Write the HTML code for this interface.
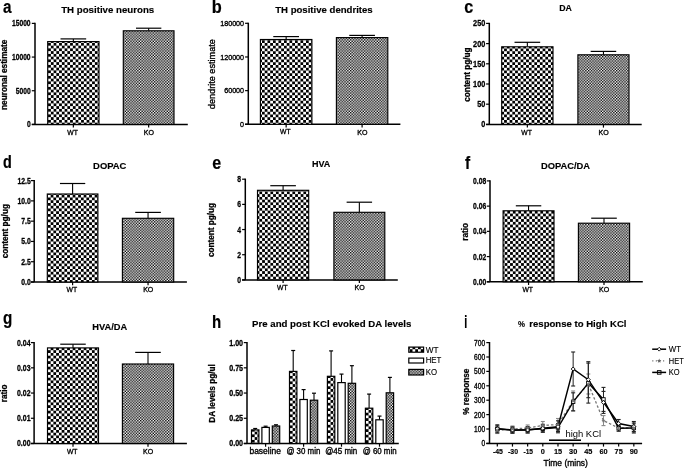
<!DOCTYPE html>
<html><head><meta charset="utf-8"><style>
html,body{margin:0;padding:0;background:#fff;overflow:hidden;}
svg{display:block;filter:grayscale(1) blur(0.35px);}
text{font-family:"Liberation Sans",sans-serif;}
text[font-weight="bold"]{stroke:#000;stroke-width:0.28px;stroke-linejoin:round;}
text.big{stroke-width:0.2px;}
text.title{stroke-width:0.14px;}
text.lt{stroke:#000;stroke-width:0.12px;}
text.med{stroke:#000;stroke-width:0.35px;stroke-linejoin:round;}
</style></head><body>
<svg width="685" height="468" viewBox="0 0 685 468">
<defs>
<pattern id="wt" patternUnits="userSpaceOnUse" width="5.5" height="5.5"><rect width="5.5" height="5.5" fill="#fff"/><rect width="2.75" height="2.75" fill="#000"/><rect x="2.75" y="2.75" width="2.75" height="2.75" fill="#000"/></pattern>
<pattern id="ko" patternUnits="userSpaceOnUse" width="2.8" height="2.8"><rect width="2.8" height="2.8" fill="#fff"/><rect width="1.4" height="1.4" fill="#000"/><rect x="1.4" y="1.4" width="1.4" height="1.4" fill="#000"/></pattern>
<pattern id="het" patternUnits="userSpaceOnUse" width="4" height="4"><rect width="4" height="4" fill="#fff"/></pattern>
<pattern id="wt_a" patternUnits="userSpaceOnUse" x="48.10" y="42.90" width="5.5" height="5.5"><rect width="5.5" height="5.5" fill="#fff"/><rect width="2.75" height="2.75" fill="#000"/><rect x="2.75" y="2.75" width="2.75" height="2.75" fill="#000"/></pattern><pattern id="wt_b" patternUnits="userSpaceOnUse" x="264.70" y="43.00" width="5.5" height="5.5"><rect width="5.5" height="5.5" fill="#fff"/><rect width="2.75" height="2.75" fill="#000"/><rect x="2.75" y="2.75" width="2.75" height="2.75" fill="#000"/></pattern><pattern id="wt_c" patternUnits="userSpaceOnUse" x="504.10" y="48.50" width="5.5" height="5.5"><rect width="5.5" height="5.5" fill="#fff"/><rect width="2.75" height="2.75" fill="#000"/><rect x="2.75" y="2.75" width="2.75" height="2.75" fill="#000"/></pattern><pattern id="wt_d" patternUnits="userSpaceOnUse" x="47.90" y="197.50" width="5.5" height="5.5"><rect width="5.5" height="5.5" fill="#fff"/><rect width="2.75" height="2.75" fill="#000"/><rect x="2.75" y="2.75" width="2.75" height="2.75" fill="#000"/></pattern><pattern id="wt_e" patternUnits="userSpaceOnUse" x="259.40" y="191.40" width="5.5" height="5.5"><rect width="5.5" height="5.5" fill="#fff"/><rect width="2.75" height="2.75" fill="#000"/><rect x="2.75" y="2.75" width="2.75" height="2.75" fill="#000"/></pattern><pattern id="wt_f" patternUnits="userSpaceOnUse" x="504.60" y="213.60" width="5.5" height="5.5"><rect width="5.5" height="5.5" fill="#fff"/><rect width="2.75" height="2.75" fill="#000"/><rect x="2.75" y="2.75" width="2.75" height="2.75" fill="#000"/></pattern><pattern id="wt_g" patternUnits="userSpaceOnUse" x="47.90" y="350.20" width="5.5" height="5.5"><rect width="5.5" height="5.5" fill="#fff"/><rect width="2.75" height="2.75" fill="#000"/><rect x="2.75" y="2.75" width="2.75" height="2.75" fill="#000"/></pattern><pattern id="wth0" patternUnits="userSpaceOnUse" x="251.90" y="434.40" width="5.5" height="5.5"><rect width="5.5" height="5.5" fill="#fff"/><rect width="2.75" height="2.75" fill="#000"/><rect x="2.75" y="2.75" width="2.75" height="2.75" fill="#000"/></pattern><pattern id="wth1" patternUnits="userSpaceOnUse" x="289.90" y="375.90" width="5.5" height="5.5"><rect width="5.5" height="5.5" fill="#fff"/><rect width="2.75" height="2.75" fill="#000"/><rect x="2.75" y="2.75" width="2.75" height="2.75" fill="#000"/></pattern><pattern id="wth2" patternUnits="userSpaceOnUse" x="327.80" y="380.80" width="5.5" height="5.5"><rect width="5.5" height="5.5" fill="#fff"/><rect width="2.75" height="2.75" fill="#000"/><rect x="2.75" y="2.75" width="2.75" height="2.75" fill="#000"/></pattern><pattern id="wth3" patternUnits="userSpaceOnUse" x="365.80" y="412.70" width="5.5" height="5.5"><rect width="5.5" height="5.5" fill="#fff"/><rect width="2.75" height="2.75" fill="#000"/><rect x="2.75" y="2.75" width="2.75" height="2.75" fill="#000"/></pattern></defs>
<rect width="685" height="468" fill="#fff"/>
<text x="2.90" y="13.00" font-size="18.00" font-weight="bold" textLength="8.50" lengthAdjust="spacingAndGlyphs" fill="#000" class="big">a</text>
<text x="211.70" y="12.70" font-size="18.00" font-weight="bold" textLength="10.00" lengthAdjust="spacingAndGlyphs" fill="#000" class="big">b</text>
<text x="464.20" y="12.70" font-size="18.00" font-weight="bold" textLength="9.00" lengthAdjust="spacingAndGlyphs" fill="#000" class="big">c</text>
<text x="3.10" y="168.40" font-size="18.00" font-weight="bold" textLength="8.80" lengthAdjust="spacingAndGlyphs" fill="#000" class="big">d</text>
<text x="212.30" y="168.70" font-size="18.00" font-weight="bold" textLength="8.90" lengthAdjust="spacingAndGlyphs" fill="#000" class="big">e</text>
<text x="465.00" y="168.70" font-size="18.00" font-weight="bold" textLength="5.17" lengthAdjust="spacingAndGlyphs" fill="#000" class="big">f</text>
<text x="3.00" y="323.90" font-size="18.00" font-weight="bold" textLength="9.30" lengthAdjust="spacingAndGlyphs" fill="#000" class="big">g</text>
<text x="212.00" y="328.20" font-size="18.00" font-weight="bold" textLength="9.20" lengthAdjust="spacingAndGlyphs" fill="#000" class="big">h</text>
<text x="464.20" y="328.20" font-size="18.00" font-weight="bold" textLength="3.00" lengthAdjust="spacingAndGlyphs" fill="#000" class="big">i</text>
<text x="61.20" y="12.80" font-size="9.31" font-weight="bold" textLength="93.00" lengthAdjust="spacingAndGlyphs" fill="#000" class="title">TH positive neurons</text>
<text x="275.20" y="12.80" font-size="9.31" font-weight="bold" textLength="97.50" lengthAdjust="spacingAndGlyphs" fill="#000" class="title">TH positive dendrites</text>
<text x="559.20" y="10.70" font-size="9.03" font-weight="bold" textLength="12.70" lengthAdjust="spacingAndGlyphs" fill="#000" class="title">DA</text>
<text x="93.10" y="169.00" font-size="9.17" font-weight="bold" textLength="33.30" lengthAdjust="spacingAndGlyphs" fill="#000" class="title">DOPAC</text>
<text x="311.90" y="167.00" font-size="9.03" font-weight="bold" textLength="18.40" lengthAdjust="spacingAndGlyphs" fill="#000" class="title">HVA</text>
<text x="540.90" y="169.00" font-size="9.17" font-weight="bold" textLength="49.20" lengthAdjust="spacingAndGlyphs" fill="#000" class="title">DOPAC/DA</text>
<text x="92.30" y="330.10" font-size="8.89" font-weight="bold" textLength="35.00" lengthAdjust="spacingAndGlyphs" fill="#000" class="title">HVA/DA</text>
<text x="252.10" y="327.10" font-size="8.89" font-weight="bold" textLength="159.20" lengthAdjust="spacingAndGlyphs" fill="#000" class="title">Pre and post KCl evoked DA levels</text>
<text x="517.90" y="326.60" font-size="9.44" font-weight="bold" textLength="7.00" lengthAdjust="spacingAndGlyphs" fill="#000" class="title">%</text>
<text x="529.30" y="326.60" font-size="9.44" font-weight="bold" textLength="97.20" lengthAdjust="spacingAndGlyphs" fill="#000" class="title">response to High KCl</text>
<text transform="translate(7.20,109.89) rotate(-90)" x="0" y="0" font-size="8.20" font-weight="bold" textLength="70.18" lengthAdjust="spacingAndGlyphs">neuronal estimate</text>
<text transform="translate(215.20,109.20) rotate(-90)" x="0" y="0" font-size="9.10" font-weight="normal" textLength="70.10" lengthAdjust="spacingAndGlyphs" class="med">dendrite estimate</text>
<text transform="translate(469.50,101.70) rotate(-90)" x="0" y="0" font-size="8.20" font-weight="bold" textLength="54.20" lengthAdjust="spacingAndGlyphs">content pg/ug</text>
<text transform="translate(7.55,258.30) rotate(-90)" x="0" y="0" font-size="8.20" font-weight="bold" textLength="54.20" lengthAdjust="spacingAndGlyphs">content pg/ug</text>
<text transform="translate(214.40,257.10) rotate(-90)" x="0" y="0" font-size="8.20" font-weight="bold" textLength="54.20" lengthAdjust="spacingAndGlyphs">content pg/ug</text>
<text transform="translate(467.60,240.68) rotate(-90)" x="0" y="0" font-size="8.20" font-weight="bold" textLength="17.77" lengthAdjust="spacingAndGlyphs">ratio</text>
<text transform="translate(6.60,402.18) rotate(-90)" x="0" y="0" font-size="8.20" font-weight="bold" textLength="17.77" lengthAdjust="spacingAndGlyphs">ratio</text>
<text transform="translate(215.30,422.74) rotate(-90)" x="0" y="0" font-size="8.20" font-weight="bold" textLength="58.48" lengthAdjust="spacingAndGlyphs">DA levels pg/ul</text>
<text transform="translate(468.50,414.71) rotate(-90)" x="0" y="0" font-size="8.20" font-weight="bold" textLength="46.03" lengthAdjust="spacingAndGlyphs">% response</text>
<line x1="35.00" y1="22.80" x2="35.00" y2="124.40" stroke="#000" stroke-width="1.5" />
<line x1="31.80" y1="124.40" x2="187.80" y2="124.40" stroke="#000" stroke-width="1.5" />
<line x1="31.80" y1="23.40" x2="35.00" y2="23.40" stroke="#000" stroke-width="1.2" />
<text x="12.00" y="26.35" font-size="8.20" font-weight="bold" textLength="18.60" lengthAdjust="spacingAndGlyphs" fill="#000">15000</text>
<line x1="31.80" y1="57.07" x2="35.00" y2="57.07" stroke="#000" stroke-width="1.2" />
<text x="12.00" y="60.02" font-size="8.20" font-weight="bold" textLength="18.60" lengthAdjust="spacingAndGlyphs" fill="#000">10000</text>
<line x1="31.80" y1="90.73" x2="35.00" y2="90.73" stroke="#000" stroke-width="1.2" />
<text x="15.72" y="93.69" font-size="8.20" font-weight="bold" textLength="14.88" lengthAdjust="spacingAndGlyphs" fill="#000">5000</text>
<line x1="31.80" y1="124.40" x2="35.00" y2="124.40" stroke="#000" stroke-width="1.2" />
<text x="26.88" y="127.35" font-size="8.20" font-weight="bold" textLength="3.72" lengthAdjust="spacingAndGlyphs" fill="#000">0</text>
<line x1="73.35" y1="38.90" x2="73.35" y2="41.60" stroke="#000" stroke-width="1.1" />
<line x1="60.52" y1="38.90" x2="86.17" y2="38.90" stroke="#000" stroke-width="1.2" />
<rect x="47.70" y="41.60" width="51.30" height="82.80" fill="url(#wt_a)" stroke="#000" stroke-width="1.15"/>
<line x1="73.35" y1="124.40" x2="73.35" y2="127.60" stroke="#000" stroke-width="1.2" />
<text x="67.26" y="134.50" font-size="8.00" font-weight="normal" textLength="10.57" lengthAdjust="spacingAndGlyphs" fill="#000" class="med">WT</text>
<line x1="148.65" y1="28.20" x2="148.65" y2="30.80" stroke="#000" stroke-width="1.1" />
<line x1="135.97" y1="28.20" x2="161.33" y2="28.20" stroke="#000" stroke-width="1.2" />
<rect x="123.30" y="30.80" width="50.70" height="93.60" fill="url(#ko)" stroke="#000" stroke-width="1.15"/>
<line x1="148.65" y1="124.40" x2="148.65" y2="127.60" stroke="#000" stroke-width="1.2" />
<text x="143.76" y="134.80" font-size="8.00" font-weight="normal" textLength="10.17" lengthAdjust="spacingAndGlyphs" fill="#000" class="med">KO</text>
<line x1="248.30" y1="22.70" x2="248.30" y2="124.30" stroke="#000" stroke-width="1.5" />
<line x1="245.10" y1="124.30" x2="400.40" y2="124.30" stroke="#000" stroke-width="1.5" />
<line x1="245.10" y1="23.30" x2="248.30" y2="23.30" stroke="#000" stroke-width="1.2" />
<text x="220.20" y="26.04" font-size="7.60" font-weight="normal" textLength="23.90" lengthAdjust="spacingAndGlyphs" fill="#000" class="med">180000</text>
<line x1="245.10" y1="56.97" x2="248.30" y2="56.97" stroke="#000" stroke-width="1.2" />
<text x="220.20" y="59.70" font-size="7.60" font-weight="normal" textLength="23.90" lengthAdjust="spacingAndGlyphs" fill="#000" class="med">120000</text>
<line x1="245.10" y1="90.63" x2="248.30" y2="90.63" stroke="#000" stroke-width="1.2" />
<text x="224.18" y="93.37" font-size="7.60" font-weight="normal" textLength="19.92" lengthAdjust="spacingAndGlyphs" fill="#000" class="med">60000</text>
<line x1="245.10" y1="124.30" x2="248.30" y2="124.30" stroke="#000" stroke-width="1.2" />
<text x="240.12" y="127.04" font-size="7.60" font-weight="normal" textLength="3.98" lengthAdjust="spacingAndGlyphs" fill="#000" class="med">0</text>
<line x1="286.15" y1="36.60" x2="286.15" y2="39.50" stroke="#000" stroke-width="1.1" />
<line x1="273.27" y1="36.60" x2="299.02" y2="36.60" stroke="#000" stroke-width="1.2" />
<rect x="260.40" y="39.50" width="51.50" height="84.80" fill="url(#wt_b)" stroke="#000" stroke-width="1.15"/>
<line x1="286.15" y1="124.30" x2="286.15" y2="127.50" stroke="#000" stroke-width="1.2" />
<text x="280.06" y="134.40" font-size="8.00" font-weight="normal" textLength="10.57" lengthAdjust="spacingAndGlyphs" fill="#000" class="med">WT</text>
<line x1="362.10" y1="35.40" x2="362.10" y2="37.60" stroke="#000" stroke-width="1.1" />
<line x1="349.25" y1="35.40" x2="374.95" y2="35.40" stroke="#000" stroke-width="1.2" />
<rect x="336.40" y="37.60" width="51.40" height="86.70" fill="url(#ko)" stroke="#000" stroke-width="1.15"/>
<line x1="362.10" y1="124.30" x2="362.10" y2="127.50" stroke="#000" stroke-width="1.2" />
<text x="357.21" y="134.70" font-size="8.00" font-weight="normal" textLength="10.17" lengthAdjust="spacingAndGlyphs" fill="#000" class="med">KO</text>
<line x1="489.30" y1="22.80" x2="489.30" y2="124.40" stroke="#000" stroke-width="1.5" />
<line x1="486.10" y1="124.40" x2="641.70" y2="124.40" stroke="#000" stroke-width="1.5" />
<line x1="486.10" y1="23.40" x2="489.30" y2="23.40" stroke="#000" stroke-width="1.2" />
<text x="473.10" y="26.35" font-size="8.20" font-weight="bold" textLength="12.20" lengthAdjust="spacingAndGlyphs" fill="#000">250</text>
<line x1="486.10" y1="43.60" x2="489.30" y2="43.60" stroke="#000" stroke-width="1.2" />
<text x="473.10" y="46.55" font-size="8.20" font-weight="bold" textLength="12.20" lengthAdjust="spacingAndGlyphs" fill="#000">200</text>
<line x1="486.10" y1="63.80" x2="489.30" y2="63.80" stroke="#000" stroke-width="1.2" />
<text x="473.10" y="66.75" font-size="8.20" font-weight="bold" textLength="12.20" lengthAdjust="spacingAndGlyphs" fill="#000">150</text>
<line x1="486.10" y1="84.00" x2="489.30" y2="84.00" stroke="#000" stroke-width="1.2" />
<text x="473.10" y="86.95" font-size="8.20" font-weight="bold" textLength="12.20" lengthAdjust="spacingAndGlyphs" fill="#000">100</text>
<line x1="486.10" y1="104.20" x2="489.30" y2="104.20" stroke="#000" stroke-width="1.2" />
<text x="477.17" y="107.15" font-size="8.20" font-weight="bold" textLength="8.14" lengthAdjust="spacingAndGlyphs" fill="#000">50</text>
<line x1="486.10" y1="124.40" x2="489.30" y2="124.40" stroke="#000" stroke-width="1.2" />
<text x="481.23" y="127.35" font-size="8.20" font-weight="bold" textLength="4.07" lengthAdjust="spacingAndGlyphs" fill="#000">0</text>
<line x1="527.35" y1="42.30" x2="527.35" y2="46.80" stroke="#000" stroke-width="1.1" />
<line x1="514.52" y1="42.30" x2="540.18" y2="42.30" stroke="#000" stroke-width="1.2" />
<rect x="501.70" y="46.80" width="51.30" height="77.60" fill="url(#wt_c)" stroke="#000" stroke-width="1.15"/>
<line x1="527.35" y1="124.40" x2="527.35" y2="127.60" stroke="#000" stroke-width="1.2" />
<text x="521.26" y="134.50" font-size="8.00" font-weight="normal" textLength="10.57" lengthAdjust="spacingAndGlyphs" fill="#000" class="med">WT</text>
<line x1="603.45" y1="51.40" x2="603.45" y2="54.80" stroke="#000" stroke-width="1.1" />
<line x1="590.68" y1="51.40" x2="616.23" y2="51.40" stroke="#000" stroke-width="1.2" />
<rect x="577.90" y="54.80" width="51.10" height="69.60" fill="url(#ko)" stroke="#000" stroke-width="1.15"/>
<line x1="603.45" y1="124.40" x2="603.45" y2="127.60" stroke="#000" stroke-width="1.2" />
<text x="598.56" y="134.80" font-size="8.00" font-weight="normal" textLength="10.17" lengthAdjust="spacingAndGlyphs" fill="#000" class="med">KO</text>
<line x1="34.20" y1="180.00" x2="34.20" y2="282.00" stroke="#000" stroke-width="1.5" />
<line x1="31.00" y1="282.00" x2="186.90" y2="282.00" stroke="#000" stroke-width="1.5" />
<line x1="31.00" y1="180.60" x2="34.20" y2="180.60" stroke="#000" stroke-width="1.2" />
<text x="17.40" y="183.55" font-size="8.20" font-weight="bold" textLength="13.30" lengthAdjust="spacingAndGlyphs" fill="#000">12.5</text>
<line x1="31.00" y1="200.88" x2="34.20" y2="200.88" stroke="#000" stroke-width="1.2" />
<text x="17.40" y="203.83" font-size="8.20" font-weight="bold" textLength="13.30" lengthAdjust="spacingAndGlyphs" fill="#000">10.0</text>
<line x1="31.00" y1="221.16" x2="34.20" y2="221.16" stroke="#000" stroke-width="1.2" />
<text x="21.20" y="224.11" font-size="8.20" font-weight="bold" textLength="9.50" lengthAdjust="spacingAndGlyphs" fill="#000">7.5</text>
<line x1="31.00" y1="241.44" x2="34.20" y2="241.44" stroke="#000" stroke-width="1.2" />
<text x="21.20" y="244.39" font-size="8.20" font-weight="bold" textLength="9.50" lengthAdjust="spacingAndGlyphs" fill="#000">5.0</text>
<line x1="31.00" y1="261.72" x2="34.20" y2="261.72" stroke="#000" stroke-width="1.2" />
<text x="21.20" y="264.67" font-size="8.20" font-weight="bold" textLength="9.50" lengthAdjust="spacingAndGlyphs" fill="#000">2.5</text>
<line x1="31.00" y1="282.00" x2="34.20" y2="282.00" stroke="#000" stroke-width="1.2" />
<text x="21.20" y="284.95" font-size="8.20" font-weight="bold" textLength="9.50" lengthAdjust="spacingAndGlyphs" fill="#000">0.0</text>
<line x1="72.60" y1="183.50" x2="72.60" y2="194.00" stroke="#000" stroke-width="1.1" />
<line x1="59.95" y1="183.50" x2="85.25" y2="183.50" stroke="#000" stroke-width="1.2" />
<rect x="47.30" y="194.00" width="50.60" height="88.00" fill="url(#wt_d)" stroke="#000" stroke-width="1.15"/>
<line x1="72.60" y1="282.00" x2="72.60" y2="285.20" stroke="#000" stroke-width="1.2" />
<text x="66.51" y="292.10" font-size="8.00" font-weight="normal" textLength="10.57" lengthAdjust="spacingAndGlyphs" fill="#000" class="med">WT</text>
<line x1="148.05" y1="212.40" x2="148.05" y2="218.30" stroke="#000" stroke-width="1.1" />
<line x1="135.23" y1="212.40" x2="160.88" y2="212.40" stroke="#000" stroke-width="1.2" />
<rect x="122.40" y="218.30" width="51.30" height="63.70" fill="url(#ko)" stroke="#000" stroke-width="1.15"/>
<line x1="148.05" y1="282.00" x2="148.05" y2="285.20" stroke="#000" stroke-width="1.2" />
<text x="143.16" y="292.40" font-size="8.00" font-weight="normal" textLength="10.17" lengthAdjust="spacingAndGlyphs" fill="#000" class="med">KO</text>
<line x1="245.30" y1="178.60" x2="245.30" y2="279.90" stroke="#000" stroke-width="1.5" />
<line x1="242.10" y1="279.90" x2="397.80" y2="279.90" stroke="#000" stroke-width="1.5" />
<line x1="242.10" y1="179.20" x2="245.30" y2="179.20" stroke="#000" stroke-width="1.2" />
<text x="237.20" y="182.15" font-size="8.20" font-weight="bold" textLength="3.80" lengthAdjust="spacingAndGlyphs" fill="#000">8</text>
<line x1="242.10" y1="204.38" x2="245.30" y2="204.38" stroke="#000" stroke-width="1.2" />
<text x="237.20" y="207.33" font-size="8.20" font-weight="bold" textLength="3.80" lengthAdjust="spacingAndGlyphs" fill="#000">6</text>
<line x1="242.10" y1="229.55" x2="245.30" y2="229.55" stroke="#000" stroke-width="1.2" />
<text x="237.20" y="232.50" font-size="8.20" font-weight="bold" textLength="3.80" lengthAdjust="spacingAndGlyphs" fill="#000">4</text>
<line x1="242.10" y1="254.72" x2="245.30" y2="254.72" stroke="#000" stroke-width="1.2" />
<text x="237.20" y="257.68" font-size="8.20" font-weight="bold" textLength="3.80" lengthAdjust="spacingAndGlyphs" fill="#000">2</text>
<line x1="242.10" y1="279.90" x2="245.30" y2="279.90" stroke="#000" stroke-width="1.2" />
<text x="237.20" y="282.85" font-size="8.20" font-weight="bold" textLength="3.80" lengthAdjust="spacingAndGlyphs" fill="#000">0</text>
<line x1="283.10" y1="185.70" x2="283.10" y2="190.30" stroke="#000" stroke-width="1.1" />
<line x1="270.30" y1="185.70" x2="295.90" y2="185.70" stroke="#000" stroke-width="1.2" />
<rect x="257.50" y="190.30" width="51.20" height="89.60" fill="url(#wt_e)" stroke="#000" stroke-width="1.15"/>
<line x1="283.10" y1="279.90" x2="283.10" y2="283.10" stroke="#000" stroke-width="1.2" />
<text x="277.01" y="290.00" font-size="8.00" font-weight="normal" textLength="10.57" lengthAdjust="spacingAndGlyphs" fill="#000" class="med">WT</text>
<line x1="359.35" y1="202.20" x2="359.35" y2="212.30" stroke="#000" stroke-width="1.1" />
<line x1="346.62" y1="202.20" x2="372.08" y2="202.20" stroke="#000" stroke-width="1.2" />
<rect x="333.90" y="212.30" width="50.90" height="67.60" fill="url(#ko)" stroke="#000" stroke-width="1.15"/>
<line x1="359.35" y1="279.90" x2="359.35" y2="283.10" stroke="#000" stroke-width="1.2" />
<text x="354.46" y="290.30" font-size="8.00" font-weight="normal" textLength="10.17" lengthAdjust="spacingAndGlyphs" fill="#000" class="med">KO</text>
<line x1="490.00" y1="180.30" x2="490.00" y2="281.80" stroke="#000" stroke-width="1.5" />
<line x1="486.80" y1="281.80" x2="642.80" y2="281.80" stroke="#000" stroke-width="1.5" />
<line x1="486.80" y1="180.90" x2="490.00" y2="180.90" stroke="#000" stroke-width="1.2" />
<text x="473.10" y="183.85" font-size="8.20" font-weight="bold" textLength="13.10" lengthAdjust="spacingAndGlyphs" fill="#000">0.08</text>
<line x1="486.80" y1="206.12" x2="490.00" y2="206.12" stroke="#000" stroke-width="1.2" />
<text x="473.10" y="209.08" font-size="8.20" font-weight="bold" textLength="13.10" lengthAdjust="spacingAndGlyphs" fill="#000">0.06</text>
<line x1="486.80" y1="231.35" x2="490.00" y2="231.35" stroke="#000" stroke-width="1.2" />
<text x="473.10" y="234.30" font-size="8.20" font-weight="bold" textLength="13.10" lengthAdjust="spacingAndGlyphs" fill="#000">0.04</text>
<line x1="486.80" y1="256.58" x2="490.00" y2="256.58" stroke="#000" stroke-width="1.2" />
<text x="473.10" y="259.53" font-size="8.20" font-weight="bold" textLength="13.10" lengthAdjust="spacingAndGlyphs" fill="#000">0.02</text>
<line x1="486.80" y1="281.80" x2="490.00" y2="281.80" stroke="#000" stroke-width="1.2" />
<text x="473.10" y="284.75" font-size="8.20" font-weight="bold" textLength="13.10" lengthAdjust="spacingAndGlyphs" fill="#000">0.00</text>
<line x1="528.55" y1="205.80" x2="528.55" y2="210.80" stroke="#000" stroke-width="1.1" />
<line x1="515.82" y1="205.80" x2="541.27" y2="205.80" stroke="#000" stroke-width="1.2" />
<rect x="503.10" y="210.80" width="50.90" height="71.00" fill="url(#wt_f)" stroke="#000" stroke-width="1.15"/>
<line x1="528.55" y1="281.80" x2="528.55" y2="285.00" stroke="#000" stroke-width="1.2" />
<text x="522.46" y="291.90" font-size="8.00" font-weight="normal" textLength="10.57" lengthAdjust="spacingAndGlyphs" fill="#000" class="med">WT</text>
<line x1="604.00" y1="218.20" x2="604.00" y2="223.20" stroke="#000" stroke-width="1.1" />
<line x1="591.20" y1="218.20" x2="616.80" y2="218.20" stroke="#000" stroke-width="1.2" />
<rect x="578.40" y="223.20" width="51.20" height="58.60" fill="url(#ko)" stroke="#000" stroke-width="1.15"/>
<line x1="604.00" y1="281.80" x2="604.00" y2="285.00" stroke="#000" stroke-width="1.2" />
<text x="599.11" y="292.20" font-size="8.00" font-weight="normal" textLength="10.17" lengthAdjust="spacingAndGlyphs" fill="#000" class="med">KO</text>
<line x1="34.10" y1="342.00" x2="34.10" y2="443.50" stroke="#000" stroke-width="1.5" />
<line x1="30.90" y1="443.50" x2="186.90" y2="443.50" stroke="#000" stroke-width="1.5" />
<line x1="30.90" y1="342.60" x2="34.10" y2="342.60" stroke="#000" stroke-width="1.2" />
<text x="17.00" y="345.55" font-size="8.20" font-weight="bold" textLength="13.50" lengthAdjust="spacingAndGlyphs" fill="#000">0.04</text>
<line x1="30.90" y1="367.83" x2="34.10" y2="367.83" stroke="#000" stroke-width="1.2" />
<text x="17.00" y="370.78" font-size="8.20" font-weight="bold" textLength="13.50" lengthAdjust="spacingAndGlyphs" fill="#000">0.03</text>
<line x1="30.90" y1="393.05" x2="34.10" y2="393.05" stroke="#000" stroke-width="1.2" />
<text x="17.00" y="396.00" font-size="8.20" font-weight="bold" textLength="13.50" lengthAdjust="spacingAndGlyphs" fill="#000">0.02</text>
<line x1="30.90" y1="418.27" x2="34.10" y2="418.27" stroke="#000" stroke-width="1.2" />
<text x="17.00" y="421.23" font-size="8.20" font-weight="bold" textLength="13.50" lengthAdjust="spacingAndGlyphs" fill="#000">0.01</text>
<line x1="30.90" y1="443.50" x2="34.10" y2="443.50" stroke="#000" stroke-width="1.2" />
<text x="17.00" y="446.45" font-size="8.20" font-weight="bold" textLength="13.50" lengthAdjust="spacingAndGlyphs" fill="#000">0.00</text>
<line x1="73.00" y1="344.20" x2="73.00" y2="347.90" stroke="#000" stroke-width="1.1" />
<line x1="60.25" y1="344.20" x2="85.75" y2="344.20" stroke="#000" stroke-width="1.2" />
<rect x="47.50" y="347.90" width="51.00" height="95.60" fill="url(#wt_g)" stroke="#000" stroke-width="1.15"/>
<line x1="73.00" y1="443.50" x2="73.00" y2="446.70" stroke="#000" stroke-width="1.2" />
<text x="66.91" y="453.60" font-size="8.00" font-weight="normal" textLength="10.57" lengthAdjust="spacingAndGlyphs" fill="#000" class="med">WT</text>
<line x1="148.00" y1="352.40" x2="148.00" y2="364.00" stroke="#000" stroke-width="1.1" />
<line x1="135.20" y1="352.40" x2="160.80" y2="352.40" stroke="#000" stroke-width="1.2" />
<rect x="122.40" y="364.00" width="51.20" height="79.50" fill="url(#ko)" stroke="#000" stroke-width="1.15"/>
<line x1="148.00" y1="443.50" x2="148.00" y2="446.70" stroke="#000" stroke-width="1.2" />
<text x="143.11" y="453.90" font-size="8.00" font-weight="normal" textLength="10.17" lengthAdjust="spacingAndGlyphs" fill="#000" class="med">KO</text>
<line x1="247.00" y1="342.00" x2="247.00" y2="443.50" stroke="#000" stroke-width="1.5" />
<line x1="243.80" y1="443.50" x2="398.80" y2="443.50" stroke="#000" stroke-width="1.5" />
<line x1="243.80" y1="342.60" x2="247.00" y2="342.60" stroke="#000" stroke-width="1.2" />
<text x="229.20" y="345.55" font-size="8.20" font-weight="bold" textLength="13.90" lengthAdjust="spacingAndGlyphs" fill="#000">1.00</text>
<line x1="243.80" y1="367.83" x2="247.00" y2="367.83" stroke="#000" stroke-width="1.2" />
<text x="229.20" y="370.78" font-size="8.20" font-weight="bold" textLength="13.90" lengthAdjust="spacingAndGlyphs" fill="#000">0.75</text>
<line x1="243.80" y1="393.05" x2="247.00" y2="393.05" stroke="#000" stroke-width="1.2" />
<text x="229.20" y="396.00" font-size="8.20" font-weight="bold" textLength="13.90" lengthAdjust="spacingAndGlyphs" fill="#000">0.50</text>
<line x1="243.80" y1="418.27" x2="247.00" y2="418.27" stroke="#000" stroke-width="1.2" />
<text x="229.20" y="421.23" font-size="8.20" font-weight="bold" textLength="13.90" lengthAdjust="spacingAndGlyphs" fill="#000">0.25</text>
<line x1="243.80" y1="443.50" x2="247.00" y2="443.50" stroke="#000" stroke-width="1.2" />
<text x="229.20" y="446.45" font-size="8.20" font-weight="bold" textLength="13.90" lengthAdjust="spacingAndGlyphs" fill="#000">0.00</text>
<line x1="255.20" y1="428.50" x2="255.20" y2="429.90" stroke="#000" stroke-width="1.1" />
<line x1="253.20" y1="428.50" x2="257.20" y2="428.50" stroke="#000" stroke-width="1.2" />
<rect x="251.50" y="429.90" width="7.40" height="13.60" fill="url(#wth0)" stroke="#000" stroke-width="1.2"/>
<line x1="265.60" y1="426.20" x2="265.60" y2="427.40" stroke="#000" stroke-width="1.1" />
<line x1="263.60" y1="426.20" x2="267.60" y2="426.20" stroke="#000" stroke-width="1.2" />
<rect x="261.90" y="427.40" width="7.40" height="16.10" fill="url(#het)" stroke="#000" stroke-width="1.2"/>
<line x1="276.00" y1="424.80" x2="276.00" y2="426.00" stroke="#000" stroke-width="1.1" />
<line x1="274.00" y1="424.80" x2="278.00" y2="424.80" stroke="#000" stroke-width="1.2" />
<rect x="272.30" y="426.00" width="7.40" height="17.50" fill="url(#ko)" stroke="#000" stroke-width="1.2"/>
<line x1="265.60" y1="443.50" x2="265.60" y2="446.70" stroke="#000" stroke-width="1.2" />
<line x1="293.20" y1="350.50" x2="293.20" y2="371.40" stroke="#000" stroke-width="1.1" />
<line x1="291.20" y1="350.50" x2="295.20" y2="350.50" stroke="#000" stroke-width="1.2" />
<rect x="289.50" y="371.40" width="7.40" height="72.10" fill="url(#wth1)" stroke="#000" stroke-width="1.2"/>
<line x1="303.60" y1="389.60" x2="303.60" y2="399.50" stroke="#000" stroke-width="1.1" />
<line x1="301.60" y1="389.60" x2="305.60" y2="389.60" stroke="#000" stroke-width="1.2" />
<rect x="299.90" y="399.50" width="7.40" height="44.00" fill="url(#het)" stroke="#000" stroke-width="1.2"/>
<line x1="314.00" y1="393.20" x2="314.00" y2="400.20" stroke="#000" stroke-width="1.1" />
<line x1="312.00" y1="393.20" x2="316.00" y2="393.20" stroke="#000" stroke-width="1.2" />
<rect x="310.30" y="400.20" width="7.40" height="43.30" fill="url(#ko)" stroke="#000" stroke-width="1.2"/>
<line x1="303.60" y1="443.50" x2="303.60" y2="446.70" stroke="#000" stroke-width="1.2" />
<line x1="331.10" y1="350.90" x2="331.10" y2="376.30" stroke="#000" stroke-width="1.1" />
<line x1="329.10" y1="350.90" x2="333.10" y2="350.90" stroke="#000" stroke-width="1.2" />
<rect x="327.40" y="376.30" width="7.40" height="67.20" fill="url(#wth2)" stroke="#000" stroke-width="1.2"/>
<line x1="341.50" y1="374.10" x2="341.50" y2="382.60" stroke="#000" stroke-width="1.1" />
<line x1="339.50" y1="374.10" x2="343.50" y2="374.10" stroke="#000" stroke-width="1.2" />
<rect x="337.80" y="382.60" width="7.40" height="60.90" fill="url(#het)" stroke="#000" stroke-width="1.2"/>
<line x1="351.90" y1="365.70" x2="351.90" y2="383.30" stroke="#000" stroke-width="1.1" />
<line x1="349.90" y1="365.70" x2="353.90" y2="365.70" stroke="#000" stroke-width="1.2" />
<rect x="348.20" y="383.30" width="7.40" height="60.20" fill="url(#ko)" stroke="#000" stroke-width="1.2"/>
<line x1="341.50" y1="443.50" x2="341.50" y2="446.70" stroke="#000" stroke-width="1.2" />
<line x1="369.10" y1="394.10" x2="369.10" y2="408.20" stroke="#000" stroke-width="1.1" />
<line x1="367.10" y1="394.10" x2="371.10" y2="394.10" stroke="#000" stroke-width="1.2" />
<rect x="365.40" y="408.20" width="7.40" height="35.30" fill="url(#wth3)" stroke="#000" stroke-width="1.2"/>
<line x1="379.50" y1="416.10" x2="379.50" y2="419.80" stroke="#000" stroke-width="1.1" />
<line x1="377.50" y1="416.10" x2="381.50" y2="416.10" stroke="#000" stroke-width="1.2" />
<rect x="375.80" y="419.80" width="7.40" height="23.70" fill="url(#het)" stroke="#000" stroke-width="1.2"/>
<line x1="389.90" y1="377.40" x2="389.90" y2="392.80" stroke="#000" stroke-width="1.1" />
<line x1="387.90" y1="377.40" x2="391.90" y2="377.40" stroke="#000" stroke-width="1.2" />
<rect x="386.20" y="392.80" width="7.40" height="50.70" fill="url(#ko)" stroke="#000" stroke-width="1.2"/>
<line x1="379.50" y1="443.50" x2="379.50" y2="446.70" stroke="#000" stroke-width="1.2" />
<text x="249.50" y="454.00" font-size="8.40" font-weight="normal" textLength="31.40" lengthAdjust="spacingAndGlyphs" fill="#000" class="med">baseline</text>
<text x="286.40" y="454.00" font-size="8.40" font-weight="normal" textLength="33.90" lengthAdjust="spacingAndGlyphs" fill="#000" class="med">@ 30 min</text>
<text x="325.30" y="454.00" font-size="8.40" font-weight="normal" textLength="31.90" lengthAdjust="spacingAndGlyphs" fill="#000" class="med">@45 min</text>
<text x="362.70" y="454.00" font-size="8.40" font-weight="normal" textLength="33.90" lengthAdjust="spacingAndGlyphs" fill="#000" class="med">@ 60 min</text>
<rect x="408.80" y="347.10" width="14.80" height="5.10" fill="url(#wt)" stroke="#000" stroke-width="1.2"/>
<text x="425.70" y="352.55" font-size="8.20" font-weight="normal" textLength="12.80" lengthAdjust="spacingAndGlyphs" fill="#000" class="lt">WT</text>
<rect x="408.80" y="358.10" width="14.80" height="4.90" fill="url(#het)" stroke="#000" stroke-width="1.2"/>
<text x="425.70" y="363.45" font-size="8.20" font-weight="normal" textLength="15.60" lengthAdjust="spacingAndGlyphs" fill="#000" class="lt">HET</text>
<rect x="408.80" y="369.40" width="14.80" height="5.60" fill="url(#ko)" stroke="#000" stroke-width="1.2"/>
<text x="425.70" y="375.10" font-size="8.20" font-weight="normal" textLength="11.30" lengthAdjust="spacingAndGlyphs" fill="#000" class="lt">KO</text>
<line x1="489.50" y1="342.00" x2="489.50" y2="443.40" stroke="#000" stroke-width="1.5" />
<line x1="486.30" y1="443.40" x2="642.10" y2="443.40" stroke="#000" stroke-width="1.5" />
<line x1="486.30" y1="342.60" x2="489.50" y2="342.60" stroke="#000" stroke-width="1.2" />
<text x="474.00" y="345.55" font-size="8.20" font-weight="normal" textLength="11.10" lengthAdjust="spacingAndGlyphs" fill="#000" class="med">700</text>
<line x1="486.30" y1="357.00" x2="489.50" y2="357.00" stroke="#000" stroke-width="1.2" />
<text x="474.00" y="359.95" font-size="8.20" font-weight="normal" textLength="11.10" lengthAdjust="spacingAndGlyphs" fill="#000" class="med">600</text>
<line x1="486.30" y1="371.40" x2="489.50" y2="371.40" stroke="#000" stroke-width="1.2" />
<text x="474.00" y="374.35" font-size="8.20" font-weight="normal" textLength="11.10" lengthAdjust="spacingAndGlyphs" fill="#000" class="med">500</text>
<line x1="486.30" y1="385.80" x2="489.50" y2="385.80" stroke="#000" stroke-width="1.2" />
<text x="474.00" y="388.75" font-size="8.20" font-weight="normal" textLength="11.10" lengthAdjust="spacingAndGlyphs" fill="#000" class="med">400</text>
<line x1="486.30" y1="400.20" x2="489.50" y2="400.20" stroke="#000" stroke-width="1.2" />
<text x="474.00" y="403.15" font-size="8.20" font-weight="normal" textLength="11.10" lengthAdjust="spacingAndGlyphs" fill="#000" class="med">300</text>
<line x1="486.30" y1="414.60" x2="489.50" y2="414.60" stroke="#000" stroke-width="1.2" />
<text x="474.00" y="417.55" font-size="8.20" font-weight="normal" textLength="11.10" lengthAdjust="spacingAndGlyphs" fill="#000" class="med">200</text>
<line x1="486.30" y1="429.00" x2="489.50" y2="429.00" stroke="#000" stroke-width="1.2" />
<text x="474.00" y="431.95" font-size="8.20" font-weight="normal" textLength="11.10" lengthAdjust="spacingAndGlyphs" fill="#000" class="med">100</text>
<line x1="486.30" y1="443.40" x2="489.50" y2="443.40" stroke="#000" stroke-width="1.2" />
<text x="481.40" y="446.35" font-size="8.20" font-weight="normal" textLength="3.70" lengthAdjust="spacingAndGlyphs" fill="#000" class="med">0</text>
<line x1="497.30" y1="443.40" x2="497.30" y2="446.60" stroke="#000" stroke-width="1.2" />
<text x="492.90" y="454.00" font-size="8.00" font-weight="bold" textLength="10.00" lengthAdjust="spacingAndGlyphs" fill="#000" class="title">-45</text>
<line x1="512.47" y1="443.40" x2="512.47" y2="446.60" stroke="#000" stroke-width="1.2" />
<text x="508.07" y="454.00" font-size="8.00" font-weight="bold" textLength="10.00" lengthAdjust="spacingAndGlyphs" fill="#000" class="title">-30</text>
<line x1="527.64" y1="443.40" x2="527.64" y2="446.60" stroke="#000" stroke-width="1.2" />
<text x="523.44" y="454.00" font-size="8.00" font-weight="bold" textLength="9.60" lengthAdjust="spacingAndGlyphs" fill="#000" class="title">-15</text>
<line x1="542.81" y1="443.40" x2="542.81" y2="446.60" stroke="#000" stroke-width="1.2" />
<text x="540.76" y="454.00" font-size="8.00" font-weight="bold" textLength="4.09" lengthAdjust="spacingAndGlyphs" fill="#000" class="title">0</text>
<line x1="557.98" y1="443.40" x2="557.98" y2="446.60" stroke="#000" stroke-width="1.2" />
<text x="553.89" y="454.00" font-size="8.00" font-weight="bold" textLength="8.19" lengthAdjust="spacingAndGlyphs" fill="#000" class="title">15</text>
<line x1="573.15" y1="443.40" x2="573.15" y2="446.60" stroke="#000" stroke-width="1.2" />
<text x="569.06" y="454.00" font-size="8.00" font-weight="bold" textLength="8.19" lengthAdjust="spacingAndGlyphs" fill="#000" class="title">30</text>
<line x1="588.32" y1="443.40" x2="588.32" y2="446.60" stroke="#000" stroke-width="1.2" />
<text x="584.23" y="454.00" font-size="8.00" font-weight="bold" textLength="8.19" lengthAdjust="spacingAndGlyphs" fill="#000" class="title">45</text>
<line x1="603.49" y1="443.40" x2="603.49" y2="446.60" stroke="#000" stroke-width="1.2" />
<text x="599.40" y="454.00" font-size="8.00" font-weight="bold" textLength="8.19" lengthAdjust="spacingAndGlyphs" fill="#000" class="title">60</text>
<line x1="618.66" y1="443.40" x2="618.66" y2="446.60" stroke="#000" stroke-width="1.2" />
<text x="614.57" y="454.00" font-size="8.00" font-weight="bold" textLength="8.19" lengthAdjust="spacingAndGlyphs" fill="#000" class="title">75</text>
<line x1="633.83" y1="443.40" x2="633.83" y2="446.60" stroke="#000" stroke-width="1.2" />
<text x="629.74" y="454.00" font-size="8.00" font-weight="bold" textLength="8.19" lengthAdjust="spacingAndGlyphs" fill="#000" class="title">90</text>
<line x1="497.30" y1="427.50" x2="497.30" y2="433.50" stroke="#888" stroke-width="1" />
<line x1="495.30" y1="427.50" x2="499.30" y2="427.50" stroke="#888" stroke-width="1.1" />
<line x1="495.30" y1="433.50" x2="499.30" y2="433.50" stroke="#888" stroke-width="1.1" />
<line x1="512.47" y1="426.00" x2="512.47" y2="432.00" stroke="#888" stroke-width="1" />
<line x1="510.47" y1="426.00" x2="514.47" y2="426.00" stroke="#888" stroke-width="1.1" />
<line x1="510.47" y1="432.00" x2="514.47" y2="432.00" stroke="#888" stroke-width="1.1" />
<line x1="527.64" y1="425.00" x2="527.64" y2="431.00" stroke="#888" stroke-width="1" />
<line x1="525.64" y1="425.00" x2="529.64" y2="425.00" stroke="#888" stroke-width="1.1" />
<line x1="525.64" y1="431.00" x2="529.64" y2="431.00" stroke="#888" stroke-width="1.1" />
<line x1="542.81" y1="421.50" x2="542.81" y2="429.50" stroke="#888" stroke-width="1" />
<line x1="540.81" y1="421.50" x2="544.81" y2="421.50" stroke="#888" stroke-width="1.1" />
<line x1="540.81" y1="429.50" x2="544.81" y2="429.50" stroke="#888" stroke-width="1.1" />
<line x1="557.98" y1="418.50" x2="557.98" y2="430.50" stroke="#888" stroke-width="1" />
<line x1="555.98" y1="418.50" x2="559.98" y2="418.50" stroke="#888" stroke-width="1.1" />
<line x1="555.98" y1="430.50" x2="559.98" y2="430.50" stroke="#888" stroke-width="1.1" />
<line x1="573.15" y1="391.00" x2="573.15" y2="411.00" stroke="#888" stroke-width="1" />
<line x1="571.15" y1="391.00" x2="575.15" y2="391.00" stroke="#888" stroke-width="1.1" />
<line x1="571.15" y1="411.00" x2="575.15" y2="411.00" stroke="#888" stroke-width="1.1" />
<line x1="588.32" y1="374.00" x2="588.32" y2="394.00" stroke="#888" stroke-width="1" />
<line x1="586.32" y1="374.00" x2="590.32" y2="374.00" stroke="#888" stroke-width="1.1" />
<line x1="586.32" y1="394.00" x2="590.32" y2="394.00" stroke="#888" stroke-width="1.1" />
<line x1="603.49" y1="415.60" x2="603.49" y2="425.60" stroke="#888" stroke-width="1" />
<line x1="601.49" y1="415.60" x2="605.49" y2="415.60" stroke="#888" stroke-width="1.1" />
<line x1="601.49" y1="425.60" x2="605.49" y2="425.60" stroke="#888" stroke-width="1.1" />
<line x1="618.66" y1="425.00" x2="618.66" y2="431.00" stroke="#888" stroke-width="1" />
<line x1="616.66" y1="425.00" x2="620.66" y2="425.00" stroke="#888" stroke-width="1.1" />
<line x1="616.66" y1="431.00" x2="620.66" y2="431.00" stroke="#888" stroke-width="1.1" />
<line x1="633.83" y1="424.00" x2="633.83" y2="432.00" stroke="#888" stroke-width="1" />
<line x1="631.83" y1="424.00" x2="635.83" y2="424.00" stroke="#888" stroke-width="1.1" />
<line x1="631.83" y1="432.00" x2="635.83" y2="432.00" stroke="#888" stroke-width="1.1" />
<line x1="497.30" y1="425.80" x2="497.30" y2="431.80" stroke="#222" stroke-width="1" />
<line x1="495.30" y1="425.80" x2="499.30" y2="425.80" stroke="#222" stroke-width="1.1" />
<line x1="495.30" y1="431.80" x2="499.30" y2="431.80" stroke="#222" stroke-width="1.1" />
<line x1="512.47" y1="427.20" x2="512.47" y2="433.20" stroke="#222" stroke-width="1" />
<line x1="510.47" y1="427.20" x2="514.47" y2="427.20" stroke="#222" stroke-width="1.1" />
<line x1="510.47" y1="433.20" x2="514.47" y2="433.20" stroke="#222" stroke-width="1.1" />
<line x1="527.64" y1="426.80" x2="527.64" y2="432.80" stroke="#222" stroke-width="1" />
<line x1="525.64" y1="426.80" x2="529.64" y2="426.80" stroke="#222" stroke-width="1.1" />
<line x1="525.64" y1="432.80" x2="529.64" y2="432.80" stroke="#222" stroke-width="1.1" />
<line x1="542.81" y1="425.80" x2="542.81" y2="431.80" stroke="#222" stroke-width="1" />
<line x1="540.81" y1="425.80" x2="544.81" y2="425.80" stroke="#222" stroke-width="1.1" />
<line x1="540.81" y1="431.80" x2="544.81" y2="431.80" stroke="#222" stroke-width="1.1" />
<line x1="557.98" y1="423.50" x2="557.98" y2="431.50" stroke="#222" stroke-width="1" />
<line x1="555.98" y1="423.50" x2="559.98" y2="423.50" stroke="#222" stroke-width="1.1" />
<line x1="555.98" y1="431.50" x2="559.98" y2="431.50" stroke="#222" stroke-width="1.1" />
<line x1="573.15" y1="392.80" x2="573.15" y2="410.80" stroke="#222" stroke-width="1" />
<line x1="571.15" y1="392.80" x2="575.15" y2="392.80" stroke="#222" stroke-width="1.1" />
<line x1="571.15" y1="410.80" x2="575.15" y2="410.80" stroke="#222" stroke-width="1.1" />
<line x1="588.32" y1="363.10" x2="588.32" y2="403.10" stroke="#222" stroke-width="1" />
<line x1="586.32" y1="363.10" x2="590.32" y2="363.10" stroke="#222" stroke-width="1.1" />
<line x1="586.32" y1="403.10" x2="590.32" y2="403.10" stroke="#222" stroke-width="1.1" />
<line x1="603.49" y1="387.40" x2="603.49" y2="411.40" stroke="#222" stroke-width="1" />
<line x1="601.49" y1="387.40" x2="605.49" y2="387.40" stroke="#222" stroke-width="1.1" />
<line x1="601.49" y1="411.40" x2="605.49" y2="411.40" stroke="#222" stroke-width="1.1" />
<line x1="618.66" y1="425.20" x2="618.66" y2="431.20" stroke="#222" stroke-width="1" />
<line x1="616.66" y1="425.20" x2="620.66" y2="425.20" stroke="#222" stroke-width="1.1" />
<line x1="616.66" y1="431.20" x2="620.66" y2="431.20" stroke="#222" stroke-width="1.1" />
<line x1="633.83" y1="423.00" x2="633.83" y2="433.00" stroke="#222" stroke-width="1" />
<line x1="631.83" y1="423.00" x2="635.83" y2="423.00" stroke="#222" stroke-width="1.1" />
<line x1="631.83" y1="433.00" x2="635.83" y2="433.00" stroke="#222" stroke-width="1.1" />
<line x1="497.30" y1="424.80" x2="497.30" y2="432.80" stroke="#222" stroke-width="1" />
<line x1="495.30" y1="424.80" x2="499.30" y2="424.80" stroke="#222" stroke-width="1.1" />
<line x1="495.30" y1="432.80" x2="499.30" y2="432.80" stroke="#222" stroke-width="1.1" />
<line x1="512.47" y1="427.00" x2="512.47" y2="433.00" stroke="#222" stroke-width="1" />
<line x1="510.47" y1="427.00" x2="514.47" y2="427.00" stroke="#222" stroke-width="1.1" />
<line x1="510.47" y1="433.00" x2="514.47" y2="433.00" stroke="#222" stroke-width="1.1" />
<line x1="527.64" y1="427.00" x2="527.64" y2="433.00" stroke="#222" stroke-width="1" />
<line x1="525.64" y1="427.00" x2="529.64" y2="427.00" stroke="#222" stroke-width="1.1" />
<line x1="525.64" y1="433.00" x2="529.64" y2="433.00" stroke="#222" stroke-width="1.1" />
<line x1="542.81" y1="424.30" x2="542.81" y2="432.30" stroke="#222" stroke-width="1" />
<line x1="540.81" y1="424.30" x2="544.81" y2="424.30" stroke="#222" stroke-width="1.1" />
<line x1="540.81" y1="432.30" x2="544.81" y2="432.30" stroke="#222" stroke-width="1.1" />
<line x1="557.98" y1="420.80" x2="557.98" y2="432.80" stroke="#222" stroke-width="1" />
<line x1="555.98" y1="420.80" x2="559.98" y2="420.80" stroke="#222" stroke-width="1.1" />
<line x1="555.98" y1="432.80" x2="559.98" y2="432.80" stroke="#222" stroke-width="1.1" />
<line x1="573.15" y1="352.00" x2="573.15" y2="386.00" stroke="#222" stroke-width="1" />
<line x1="571.15" y1="352.00" x2="575.15" y2="352.00" stroke="#222" stroke-width="1.1" />
<line x1="571.15" y1="386.00" x2="575.15" y2="386.00" stroke="#222" stroke-width="1.1" />
<line x1="588.32" y1="361.70" x2="588.32" y2="397.70" stroke="#222" stroke-width="1" />
<line x1="586.32" y1="361.70" x2="590.32" y2="361.70" stroke="#222" stroke-width="1.1" />
<line x1="586.32" y1="397.70" x2="590.32" y2="397.70" stroke="#222" stroke-width="1.1" />
<line x1="603.49" y1="391.40" x2="603.49" y2="413.40" stroke="#222" stroke-width="1" />
<line x1="601.49" y1="391.40" x2="605.49" y2="391.40" stroke="#222" stroke-width="1.1" />
<line x1="601.49" y1="413.40" x2="605.49" y2="413.40" stroke="#222" stroke-width="1.1" />
<line x1="618.66" y1="419.50" x2="618.66" y2="427.50" stroke="#222" stroke-width="1" />
<line x1="616.66" y1="419.50" x2="620.66" y2="419.50" stroke="#222" stroke-width="1.1" />
<line x1="616.66" y1="427.50" x2="620.66" y2="427.50" stroke="#222" stroke-width="1.1" />
<line x1="633.83" y1="421.50" x2="633.83" y2="431.50" stroke="#222" stroke-width="1" />
<line x1="631.83" y1="421.50" x2="635.83" y2="421.50" stroke="#222" stroke-width="1.1" />
<line x1="631.83" y1="431.50" x2="635.83" y2="431.50" stroke="#222" stroke-width="1.1" />
<polyline points="497.30,430.50 512.47,429.00 527.64,428.00 542.81,425.50 557.98,424.50 573.15,401.00 588.32,384.00 603.49,420.60 618.66,428.00 633.83,428.00" fill="none" stroke="#777" stroke-width="1.3" stroke-dasharray="2.5,2"/>
<polyline points="497.30,428.80 512.47,430.20 527.64,429.80 542.81,428.80 557.98,427.50 573.15,401.80 588.32,383.10 603.49,399.40 618.66,428.20 633.83,428.00" fill="none" stroke="#000" stroke-width="1.4"/>
<polyline points="497.30,428.80 512.47,430.00 527.64,430.00 542.81,428.30 557.98,426.80 573.15,369.00 588.32,379.70 603.49,402.40 618.66,423.50 633.83,426.50" fill="none" stroke="#000" stroke-width="1.4"/>
<rect x="495.60" y="427.10" width="3.4" height="3.4" fill="#fff" stroke="#000" stroke-width="0.9"/>
<rect x="510.77" y="428.50" width="3.4" height="3.4" fill="#fff" stroke="#000" stroke-width="0.9"/>
<rect x="525.94" y="428.10" width="3.4" height="3.4" fill="#fff" stroke="#000" stroke-width="0.9"/>
<rect x="541.11" y="427.10" width="3.4" height="3.4" fill="#fff" stroke="#000" stroke-width="0.9"/>
<rect x="556.28" y="425.80" width="3.4" height="3.4" fill="#fff" stroke="#000" stroke-width="0.9"/>
<rect x="571.45" y="400.10" width="3.4" height="3.4" fill="#fff" stroke="#000" stroke-width="0.9"/>
<rect x="586.62" y="381.40" width="3.4" height="3.4" fill="#fff" stroke="#000" stroke-width="0.9"/>
<rect x="601.79" y="397.70" width="3.4" height="3.4" fill="#fff" stroke="#000" stroke-width="0.9"/>
<rect x="616.96" y="426.50" width="3.4" height="3.4" fill="#fff" stroke="#000" stroke-width="0.9"/>
<rect x="632.13" y="426.30" width="3.4" height="3.4" fill="#fff" stroke="#000" stroke-width="0.9"/>
<path d="M497.30,426.80 L499.30,428.80 L497.30,430.80 L495.30,428.80 Z" fill="#fff" stroke="#000" stroke-width="0.9"/>
<path d="M512.47,428.00 L514.47,430.00 L512.47,432.00 L510.47,430.00 Z" fill="#fff" stroke="#000" stroke-width="0.9"/>
<path d="M527.64,428.00 L529.64,430.00 L527.64,432.00 L525.64,430.00 Z" fill="#fff" stroke="#000" stroke-width="0.9"/>
<path d="M542.81,426.30 L544.81,428.30 L542.81,430.30 L540.81,428.30 Z" fill="#fff" stroke="#000" stroke-width="0.9"/>
<path d="M557.98,424.80 L559.98,426.80 L557.98,428.80 L555.98,426.80 Z" fill="#fff" stroke="#000" stroke-width="0.9"/>
<path d="M573.15,367.00 L575.15,369.00 L573.15,371.00 L571.15,369.00 Z" fill="#fff" stroke="#000" stroke-width="0.9"/>
<path d="M588.32,377.70 L590.32,379.70 L588.32,381.70 L586.32,379.70 Z" fill="#fff" stroke="#000" stroke-width="0.9"/>
<path d="M603.49,400.40 L605.49,402.40 L603.49,404.40 L601.49,402.40 Z" fill="#fff" stroke="#000" stroke-width="0.9"/>
<path d="M618.66,421.50 L620.66,423.50 L618.66,425.50 L616.66,423.50 Z" fill="#fff" stroke="#000" stroke-width="0.9"/>
<path d="M633.83,424.50 L635.83,426.50 L633.83,428.50 L631.83,426.50 Z" fill="#fff" stroke="#000" stroke-width="0.9"/>
<polygon points="497.30,428.30 497.88,429.70 499.39,429.82 498.24,430.81 498.59,432.28 497.30,431.49 496.01,432.28 496.36,430.81 495.21,429.82 496.72,429.70" fill="#777"/>
<polygon points="512.47,426.80 513.05,428.20 514.56,428.32 513.41,429.31 513.76,430.78 512.47,429.99 511.18,430.78 511.53,429.31 510.38,428.32 511.89,428.20" fill="#777"/>
<polygon points="527.64,425.80 528.22,427.20 529.73,427.32 528.58,428.31 528.93,429.78 527.64,428.99 526.35,429.78 526.70,428.31 525.55,427.32 527.06,427.20" fill="#777"/>
<polygon points="542.81,423.30 543.39,424.70 544.90,424.82 543.75,425.81 544.10,427.28 542.81,426.49 541.52,427.28 541.87,425.81 540.72,424.82 542.23,424.70" fill="#777"/>
<polygon points="557.98,422.30 558.56,423.70 560.07,423.82 558.92,424.81 559.27,426.28 557.98,425.49 556.69,426.28 557.04,424.81 555.89,423.82 557.40,423.70" fill="#777"/>
<polygon points="573.15,398.80 573.73,400.20 575.24,400.32 574.09,401.31 574.44,402.78 573.15,401.99 571.86,402.78 572.21,401.31 571.06,400.32 572.57,400.20" fill="#777"/>
<polygon points="588.32,381.80 588.90,383.20 590.41,383.32 589.26,384.31 589.61,385.78 588.32,384.99 587.03,385.78 587.38,384.31 586.23,383.32 587.74,383.20" fill="#777"/>
<polygon points="603.49,418.40 604.07,419.80 605.58,419.92 604.43,420.91 604.78,422.38 603.49,421.59 602.20,422.38 602.55,420.91 601.40,419.92 602.91,419.80" fill="#777"/>
<polygon points="618.66,425.80 619.24,427.20 620.75,427.32 619.60,428.31 619.95,429.78 618.66,428.99 617.37,429.78 617.72,428.31 616.57,427.32 618.08,427.20" fill="#777"/>
<polygon points="633.83,425.80 634.41,427.20 635.92,427.32 634.77,428.31 635.12,429.78 633.83,428.99 632.54,429.78 632.89,428.31 631.74,427.32 633.25,427.20" fill="#777"/>
<line x1="549.00" y1="440.20" x2="581.00" y2="440.20" stroke="#000" stroke-width="1.6" />
<text x="565.40" y="437.30" font-size="9.80" font-weight="normal" textLength="35.70" lengthAdjust="spacingAndGlyphs" fill="#000">high KCl</text>
<text x="543.60" y="466.10" font-size="8.70" font-weight="normal" textLength="44.30" lengthAdjust="spacingAndGlyphs" fill="#000" class="med">Time (mins)</text>
<line x1="652.20" y1="349.20" x2="666.10" y2="349.20" stroke="#000" stroke-width="1.5" />
<path d="M659.2,347.30 L661.1,349.20 L659.2,351.10 L657.3,349.20 Z" fill="#fff" stroke="#000" stroke-width="0.9"/>
<text x="668.80" y="352.15" font-size="8.20" font-weight="normal" textLength="12.20" lengthAdjust="spacingAndGlyphs" fill="#000" class="lt">WT</text>
<line x1="652.20" y1="360.90" x2="666.10" y2="360.90" stroke="#777" stroke-width="1.3" stroke-dasharray="1.2,2.4"/>
<polygon points="659.20,358.60 659.81,360.06 661.39,360.19 660.18,361.22 660.55,362.76 659.20,361.94 657.85,362.76 658.22,361.22 657.01,360.19 658.59,360.06" fill="#666"/>
<text x="668.80" y="363.85" font-size="8.20" font-weight="normal" textLength="14.90" lengthAdjust="spacingAndGlyphs" fill="#000" class="lt">HET</text>
<line x1="652.20" y1="372.40" x2="666.10" y2="372.40" stroke="#000" stroke-width="1.5" />
<rect x="657.4" y="370.60" width="3.6" height="3.6" fill="none" stroke="#000" stroke-width="0.9"/>
<text x="668.80" y="375.35" font-size="8.20" font-weight="normal" textLength="10.80" lengthAdjust="spacingAndGlyphs" fill="#000" class="lt">KO</text>
</svg>
</body></html>
